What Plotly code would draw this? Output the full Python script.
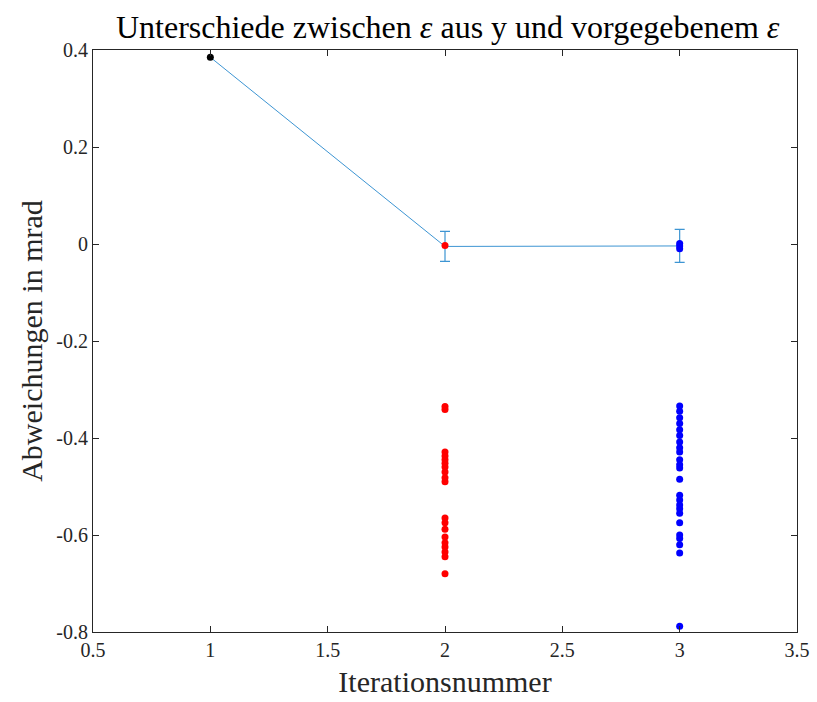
import plotly.graph_objects as go

# Mean deviation per iteration with its spread
iterations = [1, 2, 3]
mean_dev = [0.385, -0.005, -0.004]
mean_err = [0.0, 0.031, 0.034]

# Single value of the first iteration
x_first = [1]
y_first = [0.385]

# Individual deviations, iteration 2
y_iter2 = [-0.003, -0.335, -0.341, -0.429, -0.437, -0.445, -0.452, -0.460, -0.470,
           -0.482, -0.490, -0.565, -0.575, -0.588, -0.604, -0.616, -0.625, -0.635,
           -0.645, -0.680]
x_iter2 = [2] * len(y_iter2)

# Individual deviations, iteration 3
y_iter3 = [0.001, -0.004, -0.010, -0.334, -0.345, -0.358, -0.370, -0.383, -0.395,
           -0.408, -0.420, -0.429, -0.445, -0.455, -0.462, -0.485, -0.518, -0.528,
           -0.538, -0.546, -0.555, -0.575, -0.600, -0.607, -0.620, -0.637, -0.788]
x_iter3 = [3] * len(y_iter3)

x_ticks = [0.5, 1, 1.5, 2, 2.5, 3, 3.5]
y_ticks = [0.4, 0.2, 0, -0.2, -0.4, -0.6, -0.8]

font_family = "Liberation Serif, DejaVu Serif, serif"
line_blue = "#3d95d3"

fig = go.Figure()

# connecting line of the means
fig.add_trace(go.Scatter(
    x=iterations, y=mean_dev, mode="lines",
    line=dict(color=line_blue, width=1), showlegend=False,
))
# error bars only where a spread exists
err_x = [x for x, e in zip(iterations, mean_err) if e > 0]
err_y = [y for y, e in zip(mean_dev, mean_err) if e > 0]
err_v = [e for e in mean_err if e > 0]
fig.add_trace(go.Scatter(
    x=err_x, y=err_y, mode="markers",
    marker=dict(size=1, color="rgba(0,0,0,0)"),
    error_y=dict(type="data", array=err_v, visible=True,
                 color=line_blue, thickness=1.2, width=5),
    showlegend=False,
))
fig.add_trace(go.Scatter(
    x=x_first, y=y_first, mode="markers",
    marker=dict(color="black", size=7), showlegend=False,
))
fig.add_trace(go.Scatter(
    x=x_iter2, y=y_iter2, mode="markers",
    marker=dict(color="#ff0000", size=7), showlegend=False,
))
fig.add_trace(go.Scatter(
    x=x_iter3, y=y_iter3, mode="markers",
    marker=dict(color="#0000ff", size=7), showlegend=False,
))

axis_common = dict(
    showgrid=False, zeroline=False, showline=True, linecolor="#262626",
    linewidth=1, mirror="allticks", ticks="inside", ticklen=6,
    tickcolor="#262626", automargin=False,
    tickfont=dict(family=font_family, size=20, color="#262626"),
)

fig.update_layout(
    width=817, height=702,
    margin=dict(l=93, r=20, t=50, b=70),
    paper_bgcolor="white", plot_bgcolor="white",
    title=dict(
        text="Unterschiede zwischen <i>ε</i> aus y und vorgegebenem <i>ε</i>",
        x=0.548, xanchor="center", y=0.962, yanchor="middle",
        font=dict(family=font_family, size=32, color="black"),
    ),
    xaxis=dict(
        range=[0.5, 3.5], tickvals=x_ticks,
        ticktext=[f"{v:g}" for v in x_ticks],
        title=dict(text="Iterationsnummer", standoff=10,
                   font=dict(family=font_family, size=30, color="#262626")),
        **axis_common,
    ),
    yaxis=dict(
        range=[-0.8, 0.4], tickvals=y_ticks,
        ticktext=[f"{v:g}" for v in y_ticks],
        title=dict(text="Abweichungen in mrad", standoff=4,
                   font=dict(family=font_family, size=30, color="#262626")),
        **axis_common,
    ),
)

fig.write_html("out.html")
